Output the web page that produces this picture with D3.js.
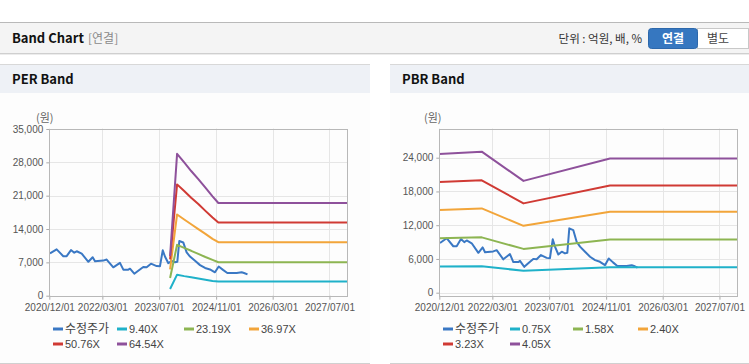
<!DOCTYPE html>
<html><head><meta charset="utf-8">
<script src="https://cdn.jsdelivr.net/npm/d3@7"></script>
<style>
body{margin:0;background:#fff;}
svg{display:block;}
</style></head><body>
<svg id="c" width="749" height="364"></svg>
<script>
// ---------- DATA ----------
const xTickDates = ["2020-12-01","2022-03-01","2023-07-01","2024-11-01","2026-03-01","2027-07-01"];
const xTickLabels = ["2020/12/01","2022/03/01","2023/07/01","2024/11/01","2026/03/01","2027/07/01"];
const xDomain = ["2020-12-01","2027-12-01"];
const perYTicks = [0,7000,14000,21000,28000,35000];
const pbrYTicks = [0,6000,12000,18000,24000];

const priceDates = ["2020-12-07","2021-02-02","2021-03-31","2021-04-29","2021-06-05","2021-07-03","2021-07-24","2021-09-05",
 "2021-11-01","2021-12-08","2021-12-28","2022-03-09","2022-04-07","2022-06-03","2022-07-30","2022-08-28","2022-10-10",
 "2022-10-24","2022-11-30","2023-01-03","2023-02-15","2023-03-16","2023-04-22","2023-06-10","2023-07-08","2023-08-01",
 "2023-08-20","2023-09-18","2023-10-17","2023-11-14","2023-12-04","2023-12-21","2024-01-24","2024-02-22","2024-03-22",
 "2024-05-04","2024-06-16","2024-07-29","2024-09-09","2024-10-22","2024-11-23","2024-12-30","2025-02-05","2025-04-26",
 "2025-06-08","2025-06-28","2025-07-28"];
const priceValues = [8850,9700,8270,8270,9550,9000,9300,8800,
 7100,8060,7200,7350,7570,5940,6870,5450,5450,
 5660,4600,5240,6020,5940,6700,6200,6150,9500,
 8200,6800,7300,7000,7100,11450,11150,9070,8200,
 7300,6400,5800,5500,4900,6100,5400,4750,4750,
 4900,4750,4450];

const perBandDates = ["2023-10-03","2023-12-02","2024-02-01","2024-04-01","2024-06-01","2024-08-01","2024-10-01","2024-11-20","2027-12-01"];
const perBandNames = ["9.40X","23.19X","36.97X","50.76X","64.54X"];
const per940  = [1400, 4400, 4100, 3850, 3600, 3350, 3100, 2950, 2950];
const per2319 = [3700, 10650,10000,9400, 8750, 8100, 7500, 7000, 7000];
const per3697 = [5500, 17000,15950,14950,13950,12950,11900,11200,11200];
const per5076 = [7600, 23300,21900,20500,19200,17750,16350,15300,15300];
const per6454 = [8300, 29700,27900,26100,24400,22600,20800,19400,19400];

const pbrBandDates = ["2020-12-01","2021-11-30","2022-11-23","2024-12-04","2027-12-01"];
const pbrBandNames = ["0.75X","1.58X","2.40X","3.23X","4.05X"];
const pbr075 = [4650, 4700, 3900, 4550, 4550];
const pbr158 = [9700, 9850, 7800, 9450, 9450];
const pbr240 = [14700,15000,11900,14400,14400];
const pbr323 = [19700,20000,15900,19100,19100];
const pbr405 = [24700,25100,19900,23900,23900];

const priceName = "수정주가";
const colors = ["#3a78c4","#1fb1c9","#8db552","#f2a53a","#d03a34","#8e519b"];

// ---------- DRAW ----------
const svg = d3.select("#c");
const parse = d3.timeParse("%Y-%m-%d");
const tickFont = "'Liberation Sans', Arial, sans-serif";
const krFont = "'Noto Sans CJK KR', 'Noto Sans', sans-serif";

// top header
svg.append("rect").attr("x",0).attr("y",0).attr("width",749).attr("height",364).attr("fill","#fff");
svg.append("rect").attr("x",0).attr("y",23).attr("width",749).attr("height",30).attr("fill","#f4f4f4");
svg.append("line").attr("x1",0).attr("x2",749).attr("y1",22.5).attr("y2",22.5).attr("stroke","#b9b9b9");
svg.append("line").attr("x1",0).attr("x2",749).attr("y1",53.5).attr("y2",53.5).attr("stroke","#cfcfcf");
svg.append("line").attr("x1",0).attr("x2",749).attr("y1",54.5).attr("y2",54.5).attr("stroke","#ececec");
svg.append("text").attr("x",12).attr("y",43).attr("font-family",krFont).attr("font-weight","bold")
  .attr("font-size",13).attr("fill","#111").text("Band Chart");
svg.append("text").attr("x",88).attr("y",43).attr("font-family",krFont)
  .attr("font-size",12).attr("fill","#8a8a8a").text("[연결]");
svg.append("text").attr("x",642).attr("y",43).attr("text-anchor","end").attr("font-family",krFont)
  .attr("font-size",11.5).attr("fill","#333").text("단위 : 억원, 배, %");
svg.append("rect").attr("x",697.5).attr("y",28.5).attr("width",51).attr("height",20).attr("fill","#fff").attr("stroke","#c8c8c8");
svg.append("rect").attr("x",648.5).attr("y",28.5).attr("width",49).attr("height",20).attr("rx",3).attr("fill","#3677c0").attr("stroke","#2d68ab");
svg.append("text").attr("x",673).attr("y",43).attr("text-anchor","middle").attr("font-family",krFont)
  .attr("font-weight","bold").attr("font-size",12).attr("fill","#fff").text("연결");
svg.append("text").attr("x",718).attr("y",43).attr("text-anchor","middle").attr("font-family",krFont)
  .attr("font-size",12).attr("fill","#444").text("별도");

function panel(cfg){
  const g = svg.append("g");
  g.append("rect").attr("x",cfg.px).attr("y",64).attr("width",cfg.pw).attr("height",299).attr("fill","#fdfdfd");
  g.append("rect").attr("x",cfg.px).attr("y",65).attr("width",cfg.pw).attr("height",28).attr("fill","#eef1f6");
  g.append("line").attr("x1",cfg.px).attr("x2",cfg.px+cfg.pw).attr("y1",64.5).attr("y2",64.5).attr("stroke","#d8d8d8");
  g.append("line").attr("x1",cfg.px).attr("x2",cfg.px+cfg.pw).attr("y1",363.5).attr("y2",363.5).attr("stroke","#d0d0d0");
  g.append("text").attr("x",cfg.px+12).attr("y",84).attr("font-family",krFont).attr("font-weight","bold")
    .attr("font-size",13).attr("fill","#111").text(cfg.title);
  g.append("text").attr("x",cfg.unitX).attr("y",122).attr("font-family",krFont)
    .attr("font-size",11).attr("fill","#666").text("(원)");

  const x = d3.scaleTime().domain(xDomain.map(parse)).range([cfg.left, cfg.right]);
  const y = d3.scaleLinear().domain(cfg.yDomain).range([cfg.bottom, cfg.top]);
  const yPos = d3.scaleLinear().domain([0, cfg.yTicks[cfg.yTicks.length-1]]).range(cfg.yRange);

  // grid
  g.selectAll(null).data(cfg.yTicks).enter().append("line")
    .attr("x1",cfg.left).attr("x2",cfg.right)
    .attr("y1",d=>Math.round(yPos(d))+0.5).attr("y2",d=>Math.round(yPos(d))+0.5)
    .attr("stroke","#e6e6e6");
  g.selectAll(null).data(xTickDates).enter().append("line")
    .attr("x1",d=>Math.round(x(parse(d)))+0.5).attr("x2",d=>Math.round(x(parse(d)))+0.5)
    .attr("y1",cfg.top).attr("y2",cfg.bottom)
    .attr("stroke","#e6e6e6");

  // axes
  const yAxis = d3.axisLeft(yPos).tickValues(cfg.yTicks).tickFormat(d3.format(",")).tickSize(3).tickPadding(3);
  const ya = g.append("g").attr("transform",`translate(${cfg.left},0)`).call(yAxis);
  ya.select(".domain").remove();
  ya.selectAll("line").attr("stroke","#aaa");
  ya.selectAll("text").attr("font-family",tickFont).attr("font-size",10).attr("fill","#555");

  const xAxis = d3.axisBottom(x).tickValues(xTickDates.map(parse))
    .tickFormat((d,i)=>xTickLabels[i]).tickSize(4).tickPadding(4);
  const xa = g.append("g").attr("transform",`translate(0,${cfg.bottom})`).call(xAxis);
  xa.select(".domain").remove();
  xa.selectAll("line").attr("stroke","#aaa");
  xa.selectAll("text").attr("font-family",tickFont).attr("font-size",10).attr("fill","#555");

  // lines
  const line = d3.line().x(d=>x(d[0])).y(d=>y(d[1]));
  const pricePts = priceDates.map((d,i)=>[parse(d), priceValues[i]]);
  g.append("path").datum(pricePts).attr("d",line).attr("fill","none")
    .attr("stroke",colors[0]).attr("stroke-width",2).attr("stroke-linejoin","round");
  cfg.bands.forEach((vals,bi)=>{
    const pts = cfg.bandDates.map((d,i)=>[parse(d), vals[i]]);
    g.append("path").datum(pts).attr("d",line).attr("fill","none")
      .attr("stroke",colors[bi+1]).attr("stroke-width",2).attr("stroke-linejoin","round");
  });

  // frame
  g.append("rect").attr("x",Math.round(cfg.left)+0.5).attr("y",Math.round(cfg.top)+0.5)
    .attr("width",Math.round(cfg.right-cfg.left)).attr("height",Math.round(cfg.bottom-cfg.top))
    .attr("fill","none").attr("stroke","#b8b8b8");

  // legend
  const names = [priceName].concat(cfg.bandNames);
  names.forEach((n,i)=>{
    const row = i<4?0:1, col = i<4?i:i-4;
    const lx = cfg.legendX[col], ly = row===0?329:344;
    g.append("line").attr("x1",lx).attr("x2",lx+10).attr("y1",ly).attr("y2",ly)
      .attr("stroke",colors[i]).attr("stroke-width",3);
    g.append("text").attr("x",lx+12).attr("y",ly+4).attr("font-family",i===0?krFont:tickFont)
      .attr("font-size",i===0?12:11).attr("fill","#444").text(n);
  });
}

panel({px:0,pw:370,title:"PER Band",unitX:36,left:49.3,right:347.3,top:128.5,bottom:295.7,
  yDomain:[0,35000],yRange:[295.7,129],yTicks:perYTicks,
  bandDates:perBandDates,bands:[per940,per2319,per3697,per5076,per6454],bandNames:perBandNames,
  legendX:[53,117,184,249]});
panel({px:390,pw:359,title:"PBR Band",unitX:424,left:439.3,right:737.3,top:128.5,bottom:295.7,
  yDomain:[-533,29227],yRange:[292.7,157.7],yTicks:pbrYTicks,
  bandDates:pbrBandDates,bands:[pbr075,pbr158,pbr240,pbr323,pbr405],bandNames:pbrBandNames,
  legendX:[443,510,573,638]});
</script>
</body></html>
